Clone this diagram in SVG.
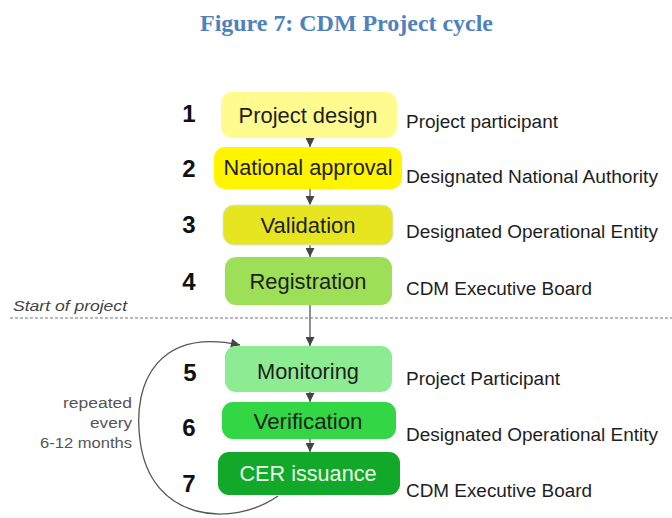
<svg xmlns="http://www.w3.org/2000/svg" width="672" height="518" viewBox="0 0 672 518">
  <style>
    .title { font-family: "Liberation Serif", "DejaVu Serif", serif; font-weight: bold; font-size: 24px; fill: #4F81BD; }
    .step { font-family: "Liberation Sans", Arial, sans-serif; font-size: 21.5px; fill: #1e1e1e; text-anchor: middle; }
    .num { font-family: "Liberation Sans", Arial, sans-serif; font-weight: bold; font-size: 24px; fill: #111; text-anchor: middle; }
    .actor { font-family: "Liberation Sans", Arial, sans-serif; font-size: 18px; fill: #1e1e1e; }
    .note { font-family: "Liberation Sans", Arial, sans-serif; font-size: 15.5px; fill: #555; text-anchor: end; }
    .phase { font-family: "Liberation Sans", Arial, sans-serif; font-style: italic; font-size: 15px; fill: #444; }
    .box { stroke: none; }
    .link { fill: none; stroke: #555; stroke-width: 1.3; marker-end: url(#head); }
    .loop { fill: none; stroke: #555; stroke-width: 1.3; marker-end: url(#head); }
  </style>
  <defs>
    <marker id="head" viewBox="0 0 10 10" refX="10" refY="5" markerUnits="userSpaceOnUse" markerWidth="11" markerHeight="9" orient="auto">
      <path d="M0,0 L10,5 L0,10 z" fill="#444"/>
    </marker>
  </defs>

  <rect width="672" height="518" fill="#ffffff"/>

  <text class="title" x="200" y="31" textLength="293" lengthAdjust="spacingAndGlyphs">Figure 7: CDM Project cycle</text>

  <!-- phase boundary -->
  <g id="phase-boundary">
    <line x1="10" y1="318" x2="672" y2="318" stroke="#777" stroke-width="1.2" stroke-dasharray="3 2"/>
    <text class="phase" x="13" y="311" textLength="114" lengthAdjust="spacingAndGlyphs">Start of project</text>
  </g>

  <!-- connectors -->
  <g id="connectors">
    <line class="link" x1="310" y1="138" x2="310" y2="147"/>
    <line class="link" x1="310" y1="189" x2="310" y2="205"/>
    <line class="link" x1="310" y1="245" x2="310" y2="257"/>
    <line class="link" x1="310" y1="305" x2="310" y2="346"/>
    <line class="link" x1="310" y1="392" x2="310" y2="402"/>
    <line class="link" x1="310" y1="439" x2="310" y2="452"/>
    <path class="loop" d="M 278 496 C 232 528, 150 522, 140 440 C 132 380, 160 328, 240 345"/>
  </g>

  <g id="repeat-note">
    <text class="note" x="132" y="408" textLength="69" lengthAdjust="spacingAndGlyphs">repeated</text>
    <text class="note" x="132" y="428" textLength="42" lengthAdjust="spacingAndGlyphs">every</text>
    <text class="note" x="132" y="448" textLength="92" lengthAdjust="spacingAndGlyphs">6-12 months</text>
  </g>

  <g id="step1">
    <text class="num" x="189" y="122">1</text>
    <rect class="box" x="221" y="92" width="176" height="46" rx="11" fill="#FFFB8F"/>
    <text class="step" x="308" y="123" textLength="139" lengthAdjust="spacingAndGlyphs">Project design</text>
    <text class="actor" x="406" y="128" textLength="152" lengthAdjust="spacingAndGlyphs">Project participant</text>
  </g>

  <g id="step2">
    <text class="num" x="189" y="177">2</text>
    <rect class="box" x="214" y="147" width="188" height="42" rx="11" fill="#FFF500"/>
    <text class="step" x="308" y="175" textLength="169" lengthAdjust="spacingAndGlyphs">National approval</text>
    <text class="actor" x="406" y="183" textLength="252" lengthAdjust="spacingAndGlyphs">Designated National Authority</text>
  </g>

  <g id="step3">
    <text class="num" x="189" y="233">3</text>
    <rect x="223" y="205" width="170" height="40" rx="11" fill="#E7E51F" stroke="#cfe6ee" stroke-width="1"/>
    <text class="step" x="308" y="233" textLength="95" lengthAdjust="spacingAndGlyphs">Validation</text>
    <text class="actor" x="406" y="238" textLength="252" lengthAdjust="spacingAndGlyphs">Designated Operational Entity</text>
  </g>

  <g id="step4">
    <text class="num" x="189" y="290">4</text>
    <rect class="box" x="225" y="257" width="167" height="48" rx="11" fill="#9DDF56"/>
    <text class="step" x="308" y="289" textLength="117" lengthAdjust="spacingAndGlyphs">Registration</text>
    <text class="actor" x="406" y="295" textLength="186" lengthAdjust="spacingAndGlyphs">CDM Executive Board</text>
  </g>

  <g id="step5">
    <text class="num" x="190" y="381">5</text>
    <rect class="box" x="225" y="346" width="167" height="46" rx="11" fill="#8DEB92"/>
    <text class="step" x="308" y="379" textLength="102" lengthAdjust="spacingAndGlyphs">Monitoring</text>
    <text class="actor" x="406" y="385" textLength="154" lengthAdjust="spacingAndGlyphs">Project Participant</text>
  </g>

  <g id="step6">
    <text class="num" x="189" y="436">6</text>
    <rect class="box" x="222" y="402" width="174" height="37" rx="11" fill="#33D645"/>
    <text class="step" x="308" y="429" textLength="109" lengthAdjust="spacingAndGlyphs">Verification</text>
    <text class="actor" x="406" y="441" textLength="252" lengthAdjust="spacingAndGlyphs">Designated Operational Entity</text>
  </g>

  <g id="step7">
    <text class="num" x="189" y="492">7</text>
    <rect class="box" x="218" y="452" width="182" height="43" rx="11" fill="#12A82A"/>
    <text class="step" x="308" y="481" textLength="137" lengthAdjust="spacingAndGlyphs" style="fill:#e8f8e8">CER issuance</text>
    <text class="actor" x="406" y="497" textLength="186" lengthAdjust="spacingAndGlyphs">CDM Executive Board</text>
  </g>
</svg>
